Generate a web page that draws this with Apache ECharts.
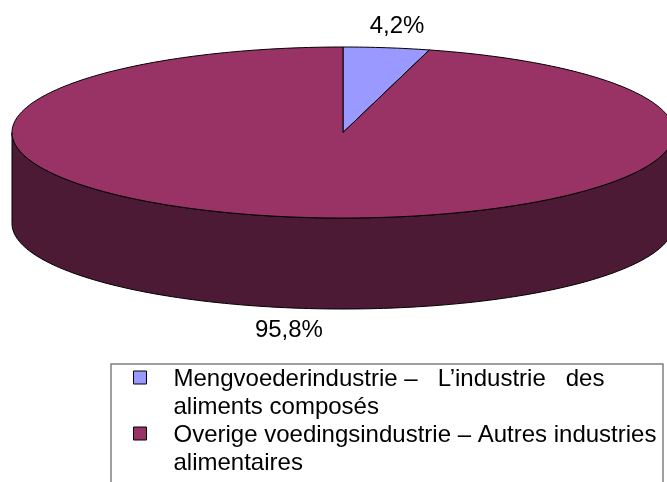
<!DOCTYPE html>
<html>
<head>
<meta charset="utf-8">
<script src="https://cdn.jsdelivr.net/npm/echarts@6/dist/echarts.min.js"></script>
<style>
  html, body { margin: 0; padding: 0; background: #fff; overflow: hidden; }
  #chart { width: 667px; height: 482px; }
</style>
</head>
<body>
<div id="chart"></div>
<script>
const categories = [
  'Mengvoederindustrie –   L’industrie   des\naliments composés',
  'Overige voedingsindustrie – Autres industries\nalimentaires'
]
const values = [4.2, 95.8]
const valueLabels = ['4,2%', '95,8%']
const topColors = ['#9999ff', '#993366']
const sideColors = ['#4d4d80', '#4c1a34']

// 3d pie geometry in pixels
const pie = { cx: 343, cy: 132.5, rx: 331, ry: 85.5, depth: 91 }
const font = '24px "Liberation Sans", Arial, sans-serif'

const total = values.reduce((a, b) => a + b, 0)
const startAngles = []
let acc = 0
values.forEach(v => {
  startAngles.push(acc / total * 360)
  acc += v
})

// angle in degrees, clockwise from 12 o'clock
function rimPoint(deg, dy) {
  const r = deg * Math.PI / 180
  return [pie.cx + pie.rx * Math.sin(r), pie.cy - pie.ry * Math.cos(r) + dy]
}

function rim(a0, a1, dy) {
  const pts = []
  const n = Math.max(2, Math.ceil(a1 - a0))
  for (let i = 0; i <= n; i++) {
    pts.push(rimPoint(a0 + (a1 - a0) * i / n, dy))
  }
  return pts
}

function renderSlice(idx) {
  return function(params, api) {
    const a0 = startAngles[idx]
    const a1 = a0 + api.value(0) / total * 360
    const children = []
    // front wall only (90..270 deg is the visible half)
    const s = Math.max(a0, 90)
    const e = Math.min(a1, 270)
    if (s < e) {
      children.push({
        type: 'polygon',
        z2: 0,
        shape: { points: rim(s, e, 0).concat(rim(s, e, pie.depth).reverse()) },
        style: { fill: sideColors[idx], stroke: '#000', lineWidth: 1 }
      })
    }
    children.push({
      type: 'polygon',
      z2: 10,
      shape: { points: [[pie.cx, pie.cy]].concat(rim(a0, a1, 0)) },
      style: { fill: topColors[idx], stroke: '#000', lineWidth: 1 }
    })
    const m = (a0 + a1) / 2 * Math.PI / 180
    const lx = pie.cx + Math.sin(m) * (pie.rx + 80)
    const ly = pie.cy - Math.cos(m) * (pie.ry + 22) + (Math.cos(m) < 0 ? pie.depth : 0)
    children.push({
      type: 'text',
      z2: 20,
      x: lx,
      y: ly,
      style: { text: valueLabels[idx], font: font, fill: '#000', align: 'center', verticalAlign: 'middle' }
    })
    return { type: 'group', children: children }
  }
}

const chart = echarts.init(document.getElementById('chart'))
chart.setOption({
  animation: false,
  backgroundColor: '#fff',
  // legend frame, runs off the bottom edge like the original
  graphic: [{
    type: 'rect',
    shape: { x: 111, y: 364, width: 552, height: 140 },
    style: { fill: 'none', stroke: '#808080', lineWidth: 1.5 }
  }],
  legend: {
    orient: 'vertical',
    left: 111,
    top: 364,
    height: 200,
    padding: [1, 5, 20, 2],
    borderWidth: 0,
    itemWidth: 55,
    itemHeight: 44,
    itemGap: 0,
    // square sits top-left in the icon box so it lines up with the first text line
    icon: 'path://M0,0L0.01,0 M20,0H33V13H20Z M55,44L55.01,44',
    textStyle: {
      fontFamily: 'Liberation Sans',
      fontSize: 24,
      lineHeight: 28,
      width: 485,
      color: '#000'
    },
    data: categories.map((name, i) => ({
      name: name,
      itemStyle: { color: topColors[i], borderColor: '#000', borderWidth: 1 }
    }))
  },
  series: categories.map((name, i) => ({
    type: 'custom',
    name: name,
    coordinateSystem: 'none',
    itemStyle: { color: topColors[i] },
    renderItem: renderSlice(i),
    data: [values[i]]
  }))
})
</script>
</body>
</html>
